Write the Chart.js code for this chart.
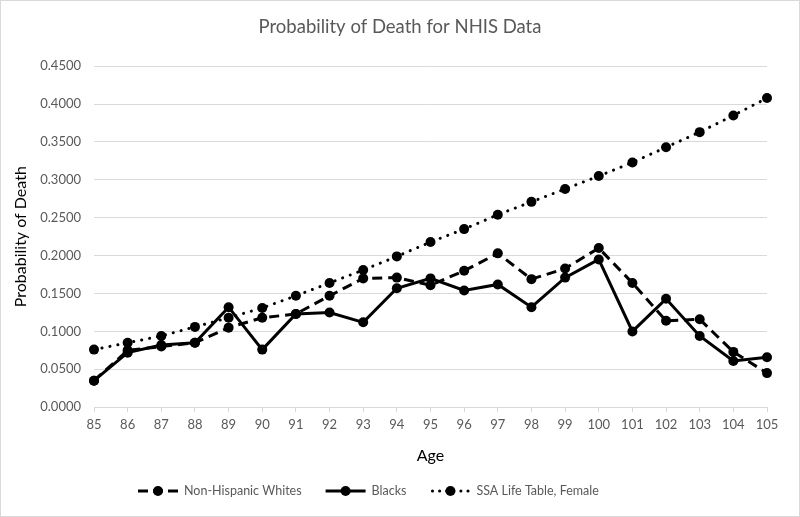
<!DOCTYPE html>
<html>
<head>
<meta charset="utf-8">
<script src="https://cdn.jsdelivr.net/npm/chart.js@4.4.1/dist/chart.umd.min.js"></script>
<style>
  html, body { margin: 0; padding: 0; background: #fff; }
  #wrap { position: relative; width: 798px; height: 515px; border: 1px solid #d9d9d9; }
</style>
</head>
<body>
<div id="wrap"><canvas id="myChart" width="798" height="515"></canvas></div>
<script>
var ages = ['85','86','87','88','89','90','91','92','93','94','95','96','97','98','99','100','101','102','103','104','105'];
var nhw = [0.035,0.075,0.080,0.085,0.105,0.118,0.123,0.147,0.170,0.171,0.161,0.180,0.203,0.169,0.183,0.210,0.164,0.114,0.116,0.073,0.045];
var blacks = [0.035,0.072,0.082,0.085,0.132,0.076,0.123,0.125,0.112,0.157,0.170,0.154,0.162,0.132,0.171,0.195,0.100,0.143,0.094,0.061,0.066];
var ssa = [0.076,0.085,0.094,0.106,0.118,0.131,0.147,0.164,0.181,0.199,0.218,0.235,0.254,0.271,0.288,0.305,0.323,0.343,0.363,0.385,0.408];

var FONT = 'Lato, "Open Sans", sans-serif';
var GRAY = '#595959';

// draws the legend row under the chart: line sample with a dot, then the label
var bottomLegend = {
    id: 'bottomLegend',
    afterDraw: function (chart) {
        var g = chart.ctx;
        var y = 490;
        var x = 137;
        g.save();
        g.font = '12.5px ' + FONT;
        g.textBaseline = 'middle';
        g.fillStyle = GRAY;
        chart.data.datasets.forEach(function (ds) {
            var w = 40;
            g.save();
            g.strokeStyle = '#000';
            g.fillStyle = '#000';
            g.lineWidth = 3;
            g.lineCap = ds.borderCapStyle || 'butt';
            g.setLineDash(ds.borderDash ? [ds.borderDash[0], ds.borderDash[1] - 1] : []);
            g.beginPath();
            g.moveTo(x + (ds.borderCapStyle === 'round' ? 2 : 0), y);
            g.lineTo(x + w, y);
            g.stroke();
            g.setLineDash([]);
            g.beginPath();
            g.arc(x + w / 2, y, 5, 0, Math.PI * 2);
            g.fill();
            g.restore();
            x += w + 6;
            g.fillText(ds.label, x, y);
            x += g.measureText(ds.label).width + 24;
        });
        g.restore();
    }
};

var ctx = document.getElementById('myChart').getContext('2d');
var myChart = new Chart(ctx, {
    type: 'line',
    data: {
        labels: ages,
        datasets: [{
            label: 'Non-Hispanic Whites',
            data: nhw,
            borderColor: '#000',
            backgroundColor: '#000',
            borderWidth: 3,
            borderDash: [10, 6],
            pointRadius: 5,
            pointBorderWidth: 0,
            tension: 0
        }, {
            label: 'Blacks',
            data: blacks,
            borderColor: '#000',
            backgroundColor: '#000',
            borderWidth: 3,
            pointRadius: 5,
            pointBorderWidth: 0,
            tension: 0
        }, {
            label: 'SSA Life Table, Female',
            data: ssa,
            borderColor: '#000',
            backgroundColor: '#000',
            borderWidth: 3,
            borderDash: [0.1, 8],
            borderCapStyle: 'round',
            pointRadius: 5,
            pointBorderWidth: 0,
            tension: 0
        }]
    },
    plugins: [bottomLegend],
    options: {
        responsive: false,
        animation: false,
        layout: { padding: { left: 0, right: 0, top: 0, bottom: 51 } },
        plugins: {
            title: {
                display: true,
                text: 'Probability of Death for NHIS Data',
                color: GRAY,
                font: { family: FONT, size: 18.5, weight: 'normal' },
                padding: { top: 15, bottom: 28 }
            },
            legend: { display: false },
            tooltip: { enabled: false }
        },
        scales: {
            x: {
                offset: false,
                grid: { drawOnChartArea: false, drawTicks: true, tickLength: 5, color: '#d9d9d9' },
                border: { color: '#d9d9d9', width: 1 },
                ticks: { color: GRAY, font: { family: FONT, size: 13 }, padding: 5, maxRotation: 0, autoSkip: false },
                title: { display: true, text: 'Age', color: '#000', font: { family: FONT, size: 16 }, padding: { top: 8, bottom: 0 } }
            },
            y: {
                min: 0,
                max: 0.45,
                afterFit: function (scale) { scale.width = 93; },
                grid: { color: '#d9d9d9', drawTicks: false },
                border: { display: false },
                ticks: {
                    stepSize: 0.05,
                    color: GRAY,
                    font: { family: FONT, size: 13 },
                    padding: 13,
                    callback: function (v) { return Number(v).toFixed(4); }
                },
                title: { display: true, text: 'Probability of Death', color: '#000', font: { family: FONT, size: 16 }, padding: { top: 10, bottom: 0 } }
            },
            // empty right axis, only keeps the plot clear of the right edge
            yRight: {
                position: 'right',
                afterFit: function (scale) { scale.width = 32; },
                grid: { display: false },
                border: { display: false },
                ticks: { display: false }
            }
        }
    }
});
</script>
</body>
</html>
